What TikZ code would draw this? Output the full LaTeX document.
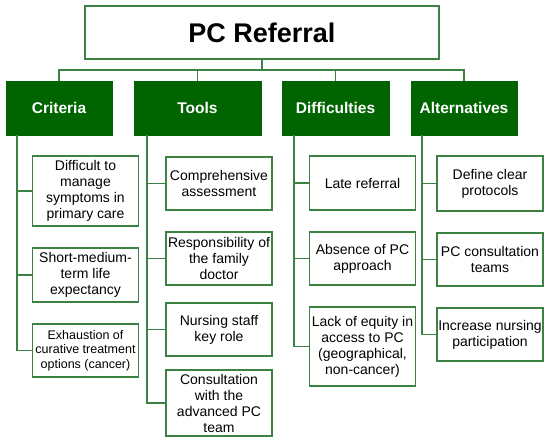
\documentclass[tikz,border=0pt]{standalone}
\usepackage{fontspec}
\setmainfont{Liberation Sans}
\usepackage{tikz}
\usetikzlibrary{positioning,calc}
\definecolor{HeadGreen}{RGB}{0,100,0}
\definecolor{LineGreen}{RGB}{60,130,66}

\begin{document}
\begin{tikzpicture}[x=1pt,y=-1pt,
 titlebox/.style={draw=LineGreen, line width=1.4pt, fill=white, minimum width=354pt, minimum height=53pt, font=\fontsize{27}{30}\selectfont\bfseries},
 headbox/.style={fill=HeadGreen, draw=HeadGreen, text=white, minimum height=54pt, font=\fontsize{15.5}{18}\selectfont\bfseries},
 itembox/.style={draw=LineGreen, line width=1.4pt, fill=white, align=center, inner sep=1pt, minimum width=106pt, font=\fontsize{14}{16}\selectfont},
 link/.style={draw=LineGreen, line width=1.4pt}
]
\useasboundingbox (0,0) rectangle (550,442);
\node[titlebox] (title) at (262,32.5) {PC Referral};

\node[headbox, minimum width=106pt] (crit) at (59,108) {Criteria};
\node[headbox, minimum width=127pt] (tools) at (197.5,108) {Tools};
\node[headbox, minimum width=107pt] (diff) at (335.5,108) {Difficulties};
\node[headbox, minimum width=106pt] (alt) at (464,108) {Alternatives};

\coordinate (hub) at (262,70);
\draw[link] (title.south) -- (hub);
\foreach \h in {crit,tools,diff,alt} {\draw[link] (hub) -| (\h.north);}

\node[itembox, minimum height=70pt] (c1) at (85.5,191) {Difficult to\\manage\\symptoms in\\primary care};
\node[itembox, minimum height=54pt] (c2) at (85.5,275) {Short-medium-\\term life\\expectancy};
\node[itembox, minimum height=53pt, font=\fontsize{12.5}{14.5}\selectfont] (c3) at (85.5,350.5) {Exhaustion of\\curative treatment\\options (cancer)};

\node[itembox, minimum height=53pt] (t1) at (219,183.5) {Comprehensive\\assessment};
\node[itembox, minimum height=53pt] (t2) at (219,258.5) {Responsibility of\\the family\\doctor};
\node[itembox, minimum height=53pt] (t3) at (219,329.5) {Nursing staff\\key role};
\node[itembox, minimum height=66pt] (t4) at (219,403) {Consultation\\with the\\advanced PC\\team};

\node[itembox, minimum height=54pt] (d1) at (362.5,183) {Late referral};
\node[itembox, minimum height=53pt] (d2) at (362.5,258.5) {Absence of PC\\approach};
\node[itembox, minimum height=79pt] (d3) at (362.5,346.5) {Lack of equity in\\access to PC\\(geographical,\\non-cancer)};

\node[itembox, minimum height=55pt] (a1) at (490,183.5) {Define clear\\protocols};
\node[itembox, minimum height=53pt] (a2) at (490,259.5) {PC consultation\\teams};
\node[itembox, minimum height=53pt] (a3) at (490,334.5) {Increase nursing\\participation};

\coordinate (critTop) at (17,135);
\coordinate (toolsTop) at (147,135);
\coordinate (diffTop) at (294,135);
\coordinate (altTop) at (422,135);
\foreach \c in {c1,c2,c3} {\draw[link] (critTop) |- (\c.west);}
\foreach \c in {t1,t2,t3,t4} {\draw[link] (toolsTop) |- (\c.west);}
\foreach \c in {d1,d2,d3} {\draw[link] (diffTop) |- (\c.west);}
\foreach \c in {a1,a2,a3} {\draw[link] (altTop) |- (\c.west);}
\end{tikzpicture}
\end{document}
